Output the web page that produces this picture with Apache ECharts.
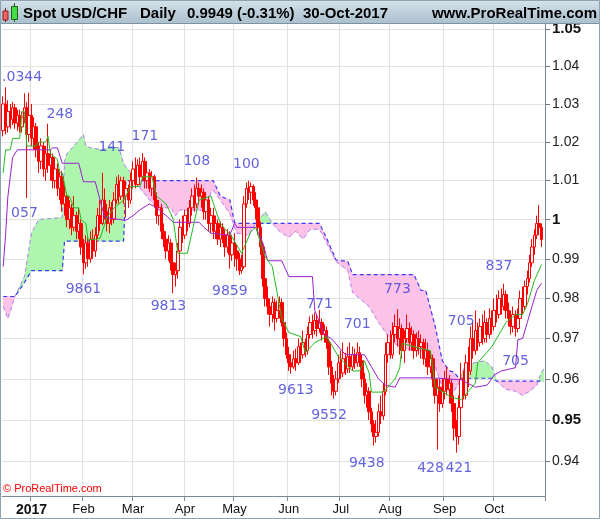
<!DOCTYPE html>
<html><head><meta charset="utf-8">
<script src="https://cdn.jsdelivr.net/npm/echarts@6/dist/echarts.min.js"></script>
<style>html,body{margin:0;padding:0;background:#fff}#c{width:600px;height:519px}</style>
</head><body><div id="c"></div>
<script>
// ---- data (prices x 1e-4) ----
const open = [10230,10300,10240,10280,10260,10290,10250,10270,10240,10265,
10290,10220,10270,10210,10240,10180,10150,10190,10130,10170,
10140,10160,10100,10130,10080,10110,10040,10060,10000,10030,
9980,10010,9970,9990,9930,9890,9940,9900,9950,9920,
9960,10010,9990,10050,10020,9990,10030,10000,10050,10090,
10060,10100,10060,10080,10050,10100,10130,10090,10140,10110,
10150,10100,10120,10080,10110,10050,10010,10030,9970,9950,
9920,9940,9890,9860,9870,9920,9980,9960,10010,9990,
10030,10060,10040,10080,10060,10070,10020,10050,9990,10010,
9970,9990,9950,9980,9960,9930,9960,9910,9940,9920,
9900,9870,9880,10040,10080,10070,10085,10050,10030,9980,
9930,9850,9800,9780,9760,9790,9750,9770,9790,9740,
9700,9660,9640,9630,9650,9640,9680,9660,9690,9670,
9710,9740,9720,9745,9725,9740,9710,9720,9690,9630,
9590,9570,9600,9640,9615,9650,9625,9655,9630,9660,
9640,9665,9645,9600,9560,9570,9520,9490,9460,9470,
9520,9510,9570,9660,9690,9660,9710,9730,9700,9725,
9670,9700,9725,9690,9710,9670,9700,9680,9690,9650,
9670,9630,9650,9600,9560,9580,9540,9570,9600,9575,
9590,9540,9480,9460,9530,9600,9560,9640,9620,9700,
9670,9720,9690,9730,9700,9740,9710,9750,9730,9770,
9760,9800,9780,9810,9770,9750,9730,9760,9725,9750,
9800,9780,9830,9850,9890,9930,9960,9990,9980];
const close = [10300,10240,10280,10260,10290,10250,10270,10240,10265,10290,
10220,10270,10210,10240,10180,10150,10190,10130,10170,10140,
10160,10100,10130,10080,10110,10040,10060,10000,10030,9980,
10010,9970,9990,9930,9890,9940,9900,9950,9920,9960,
10010,9990,10050,10020,9990,10030,10000,10050,10090,10060,
10100,10060,10080,10050,10100,10130,10090,10140,10110,10150,
10100,10120,10080,10110,10050,10010,10030,9970,9950,9920,
9940,9890,9860,9870,9920,9980,9960,10010,9990,10030,
10060,10040,10080,10060,10070,10020,10050,9990,10010,9970,
9990,9950,9980,9960,9930,9960,9910,9940,9920,9900,
9870,9880,10040,10080,10070,10085,10050,10030,9980,9930,
9850,9800,9780,9760,9790,9750,9770,9790,9740,9700,
9660,9640,9630,9650,9640,9680,9660,9690,9670,9710,
9740,9720,9745,9725,9740,9710,9720,9690,9630,9590,
9570,9600,9640,9615,9650,9625,9655,9630,9660,9640,
9665,9645,9600,9560,9570,9520,9490,9460,9470,9520,
9510,9570,9660,9690,9660,9710,9730,9700,9725,9670,
9700,9725,9690,9710,9670,9700,9680,9690,9650,9670,
9630,9650,9600,9560,9580,9540,9570,9600,9575,9590,
9540,9480,9460,9530,9600,9560,9640,9620,9700,9670,
9720,9690,9730,9700,9740,9710,9750,9730,9770,9760,
9800,9780,9810,9770,9750,9730,9760,9725,9750,9800,
9780,9830,9850,9890,9930,9960,9990,9980,9949];
const high = [10320,10344,10310,10300,10305,10300,10285,10285,10280,10328,
10305,10330,10300,10265,10250,10200,10210,10200,10190,10248,
10180,10170,10150,10145,10130,10125,10090,10070,10050,10040,
10060,10020,10030,10000,9950,9960,9955,9970,9975,9980,
10030,10050,10120,10080,10040,10050,10045,10070,10110,10115,
10110,10110,10100,10090,10120,10150,10160,10155,10160,10171,
10160,10140,10130,10125,10115,10070,10050,10040,9990,9970,
9960,9950,9900,9890,9940,10000,10010,10025,10030,10050,
10080,10090,10108,10095,10090,10080,10070,10060,10030,10030,
10010,10000,9995,9990,9975,9975,9970,9960,9965,9935,
9915,9910,10060,10095,10100,10095,10090,10070,10045,9995,
9940,9870,9830,9800,9805,9800,9795,9805,9800,9750,
9715,9680,9660,9670,9675,9700,9690,9720,9700,9730,
9755,9760,9765,9760,9771,9750,9735,9730,9700,9645,
9610,9620,9660,9670,9690,9665,9680,9690,9680,9675,
9690,9680,9660,9615,9590,9580,9530,9500,9500,9540,
9560,9590,9690,9710,9720,9740,9760,9773,9750,9735,
9720,9760,9740,9730,9720,9715,9720,9710,9700,9700,
9690,9670,9660,9620,9600,9600,9600,9620,9630,9610,
9600,9560,9500,9560,9640,9620,9660,9680,9730,9740,
9770,9740,9750,9760,9770,9750,9775,9770,9800,9810,
9820,9825,9837,9820,9790,9770,9780,9770,9775,9820,
9830,9845,9870,9910,9950,9975,10010,10037,9990];
const low = [10215,10220,10225,10235,10245,10235,10230,10225,10225,10250,
10055,10200,10190,10180,10160,10120,10130,10110,10100,10120,
10100,10080,10080,10060,10050,10020,10010,9980,9975,9960,
9970,9950,9950,9910,9861,9875,9880,9890,9900,9905,
9950,9970,9985,10000,9970,9965,9985,9990,10040,10040,
10050,10040,10005,10030,10040,10080,10080,10085,10090,10100,
10080,10080,10070,10060,10030,9990,9985,9950,9930,9900,
9895,9870,9813,9830,9850,9900,9940,9950,9970,9980,
10010,10020,10030,10040,10030,10000,10000,9970,9965,9950,
9950,9935,9930,9940,9905,9915,9875,9895,9880,9870,
9859,9862,9875,10030,10050,10040,10035,10000,9960,9910,
9830,9780,9760,9730,9740,9720,9740,9750,9730,9680,
9650,9620,9613,9625,9620,9635,9640,9650,9655,9660,
9700,9700,9710,9705,9715,9695,9690,9675,9610,9560,
9552,9560,9590,9600,9605,9610,9615,9615,9620,9625,
9630,9630,9580,9540,9530,9500,9470,9438,9445,9460,
9490,9500,9560,9640,9650,9650,9690,9680,9660,9650,
9640,9690,9670,9670,9650,9655,9660,9650,9635,9630,
9610,9615,9580,9540,9428,9520,9530,9550,9560,9540,
9520,9450,9421,9440,9520,9550,9550,9580,9610,9650,
9660,9670,9680,9685,9690,9690,9700,9710,9720,9740,
9750,9760,9770,9750,9730,9710,9715,9705,9715,9740,
9760,9770,9810,9840,9880,9910,9950,9960,9930];

// Tenkan-sen (green) vertices
const tenkanIdx = [0,1,3,4,7,8,9,10,14,15,18,19,20,23,24,25,27,28,30,32,33,35,36,41,44,47,51,54,58,59,63,65,69,71,72,74,78,83,88,90,92,97,101,105,107,109,111,114,118,121,126,128,132,137,142,148,151,153,155,156,161,166,168,169,177,181,183,190,194,200,201,207,210,213,217,220,222,225,228];
const tenkanVal = [1.012,1.018,1.018,1.021,1.021,1.028,1.028,1.019,1.019,1.020,1.020,1.0215,1.017,1.0155,1.012,1.012,1.006,1.006,1.003,1.003,1.0,0.999,0.9947,0.9952,1.0006,1.003,1.005,1.0085,1.0085,1.011,1.011,1.006,1.004,1.0015,1.0,0.9914,0.9914,1.005,1.006,1.0024,0.999,0.9955,0.9914,0.997,0.998,0.994,0.9905,0.988,0.975,0.9715,0.9705,0.9665,0.969,0.9705,0.9655,0.962,0.962,0.9645,0.9615,0.9568,0.9568,0.960,0.9628,0.9688,0.9675,0.967,0.958,0.9555,0.955,0.959,0.964,0.968,0.971,0.974,0.976,0.976,0.9785,0.9845,0.9885];
// Kijun-sen (purple) vertices
const kijunIdx = [0,1,2,4,6,20,21,23,25,32,34,39,41,43,52,55,58,62,65,69,72,83,85,88,96,98,99,107,110,112,118,121,131,132,134,136,139,145,153,156,159,162,166,168,182,189,194,200,205,208,211,217,218,220,222,224,226,228];
const kijunVal = [0.988,0.996,1.006,1.016,1.018,1.018,1.0185,1.0185,1.0145,1.0145,1.0097,1.0097,1.005,1.0005,0.9998,1.001,1.0025,1.004,1.003,1.001,0.9993,0.9993,0.998,0.9965,0.996,0.999,0.998,0.998,0.994,0.9895,0.9895,0.9855,0.9855,0.977,0.974,0.971,0.970,0.966,0.966,0.963,0.960,0.9585,0.958,0.9603,0.9603,0.960,0.9598,0.958,0.9585,0.961,0.962,0.9628,0.9697,0.970,0.974,0.978,0.982,0.9838];
// Cloud: Senkou span A (purple dashed) and span B (blue dashed)
const cloudIdx = [0,2,5,9,12,15,25,26,27,30,34,35,37,42,46,49,51,52,57,58,62,65,71,73,75,78,86,88,89,92,96,98,99,104,107,111,114,117,121,124,127,130,134,137,141,146,148,155,159,165,170,174,177,179,183,186,189,191,193,195,198,204,207,209,213,217,220,223,226,228,229];
const cloudA = [0.978,0.975,0.9805,0.9855,0.9965,1.0,1.0005,1.015,1.017,1.019,
1.022,1.019,1.0185,1.018,1.0188,1.0185,1.0145,1.0135,1.010,1.008,
1.005,1.003,1.003,1.001,1.0025,1.0024,1.0024,1.007,1.0075,1.005,
1.0015,0.998,0.9965,0.996,0.999,1.002,0.999,0.997,0.9955,0.997,
0.995,0.9975,0.9975,0.994,0.9893,0.987,0.9815,0.978,0.974,0.969,
0.9675,0.967,0.967,0.966,0.963,0.958,0.957,0.957,0.959,0.9625,
0.9638,0.9645,0.963,0.9595,0.9575,0.957,0.956,0.957,0.9585,0.9617,
0.9625];
const cloudB = [0.9805,0.9805,0.9805,0.984,0.987,0.987,0.987,
0.9945,0.9945,0.9945,0.9945,0.9945,0.9945,0.9945,0.9945,0.9945,0.9945,
1.010,1.010,1.010,1.010,1.010,1.010,1.010,1.010,1.010,1.010,1.010,1.010,
1.006,1.005,0.9993,
0.999,0.999,0.999,0.999,0.999,0.999,0.999,0.999,0.999,0.999,0.999,
0.9952,0.9897,0.9893,0.986,
0.986,0.986,0.986,0.986,0.986,
0.982,0.982,0.973,0.9645,0.962,0.9617,0.9602,
0.9602,0.9602,0.9602,0.9602,
0.9595,0.9595,0.9595,0.9595,0.9595,0.9595,0.9595,0.9595];
// Swing labels
const annoText = ['.0344','248','057','9861','141','171','9813','108','9859','100','9613','771','9552','701','9438','773','428','421','705','837','705'];
const annoIdx = [8,24,9,34,46,60,70,82,96,103,124,134,138,150,154,167,181,193,194,210,217];
const annoPrice = [1.0371,1.0274,1.0016,0.9822,1.0186,1.0216,0.9781,1.0151,0.9819,1.0143,0.9573,0.9784,0.9512,0.9736,0.9394,0.9824,0.9384,0.9382,0.9742,0.988,0.9644];
// Axes
const N_CAT = 230;
const categories = Array.from({length: N_CAT}, (_, i) => String(i));
const monthNames = ['2017','Feb','Mar','Apr','May','Jun','Jul','Aug','Sep','Oct'];
const monthIdx = [12,34,55,77,98,121,143,164,187,208];
const yTicks = [1.05,1.04,1.03,1.02,1.01,1,0.99,0.98,0.97,0.96,0.95,0.94];
const boldTicks = [1.05,1,0.95];

const GREEN = '#aef5ae', PINK = '#fcc2e8';
const candleData = open.map((o, i) => [o / 1e4, close[i] / 1e4, low[i] / 1e4, high[i] / 1e4]);
const pairs = (xs, ys) => xs.map((x, k) => [x, ys[k]]);

function cloudRender(params, api) {
  const k = params.dataIndex;
  if (k >= cloudIdx.length - 1) return null;
  const a0 = api.coord([cloudIdx[k], cloudA[k]]), b0 = api.coord([cloudIdx[k], cloudB[k]]);
  const a1 = api.coord([cloudIdx[k + 1], cloudA[k + 1]]), b1 = api.coord([cloudIdx[k + 1], cloudB[k + 1]]);
  const d0 = b0[1] - a0[1], d1 = b1[1] - a1[1];
  const col = d => d > 0 ? GREEN : PINK;
  const mk = (pts, d) => ({type: 'polygon', shape: {points: pts}, style: {fill: col(d), stroke: col(d), lineWidth: 0.6}});
  const ch = [];
  if (d0 * d1 >= 0) {
    const d = Math.abs(d0) > Math.abs(d1) ? d0 : d1;
    if (d !== 0) ch.push(mk([a0, a1, b1, b0], d));
  } else {
    const t = d0 / (d0 - d1);
    const x = [a0[0] + t * (a1[0] - a0[0]), a0[1] + t * (a1[1] - a0[1])];
    ch.push(mk([a0, x, b0], d0));
    ch.push(mk([x, a1, b1], d1));
  }
  return {type: 'group', children: ch};
}

const isMonth = i => monthIdx.indexOf(i) >= 0;
const FONT = 'Liberation Sans, Arial, sans-serif';

const chart = echarts.init(document.getElementById('c'), null, {renderer: 'canvas'});
chart.setOption({
  animation: false,
  backgroundColor: '#ffffff',
  grid: {left: 2, right: 55, top: 24, bottom: 23, outerBoundsMode: 'none'},
  xAxis: {
    type: 'category', data: categories, boundaryGap: true,
    axisLine: {show: true, lineStyle: {color: '#7b8a96', width: 1}},
    axisTick: {show: true, interval: isMonth, length: 5, lineStyle: {color: '#7b8a96'}},
    axisLabel: {
      interval: isMonth, margin: 7, color: '#111', fontSize: 13, fontFamily: FONT,
      formatter: v => { const k = monthIdx.indexOf(+v); return k === 0 ? '{b|' + monthNames[0] + '}' : monthNames[k]; },
      rich: {b: {fontWeight: 'bold', fontSize: 14, color: '#111', fontFamily: FONT}}
    },
    splitLine: {show: true, interval: isMonth, lineStyle: {color: '#e2e2e2', width: 1}}
  },
  yAxis: {
    type: 'log', logBase: 10, position: 'right', min: 0.9317, max: 1.0513,
    axisLine: {show: true, lineStyle: {color: '#7b8a96', width: 1}},
    axisTick: {show: true, customValues: yTicks, length: 5, lineStyle: {color: '#777'}},
    axisLabel: {
      customValues: yTicks, margin: 7, color: '#222', fontSize: 14, fontFamily: FONT,
      formatter: v => { const r = +(+v).toFixed(2); const s = String(r); return boldTicks.some(b => Math.abs(b - r) < 1e-6) ? '{b|' + s + '}' : s; },
      rich: {b: {fontWeight: 'bold', fontSize: 15, color: '#111', fontFamily: FONT}}
    },
    splitLine: {show: true, lineStyle: {color: '#e2e2e2', width: 1}}
  },
  series: [
    {type: 'custom', renderItem: cloudRender, data: cloudIdx.map((x, k) => [x, cloudA[k], cloudB[k]]), encode: {x: 0, y: [1, 2]}, silent: true, z: 1},
    {type: 'line', data: pairs(cloudIdx, cloudA), symbol: 'none', silent: true, z: 2, lineStyle: {color: '#b27ff0', width: 1, type: [4, 3]}},
    {type: 'line', data: pairs(cloudIdx, cloudB), symbol: 'none', silent: true, z: 2, lineStyle: {color: '#3a3af5', width: 1.2, type: [4, 3]}},
    {type: 'candlestick', data: candleData, barWidth: 3, silent: true, z: 3,
      itemStyle: {color: '#ffffff', color0: '#ff0000', borderColor: '#ff0000', borderColor0: '#ff0000', borderWidth: 1}},
    {type: 'line', data: pairs(kijunIdx, kijunVal), symbol: 'none', silent: true, z: 4, lineStyle: {color: '#9a22cc', width: 1}},
    {type: 'line', data: pairs(tenkanIdx, tenkanVal), symbol: 'none', silent: true, z: 4, lineStyle: {color: '#22bb22', width: 1}},
    {type: 'scatter', data: annoIdx.map((x, k) => [x, annoPrice[k], annoText[k]]), symbolSize: 1, silent: true, z: 5,
      itemStyle: {color: 'rgba(0,0,0,0)'},
      label: {show: true, position: 'inside', formatter: p => p.data[2], color: '#3b3bd6', fontSize: 14, fontFamily: 'DejaVu Sans, sans-serif'}}
  ],
  graphic: [
    {type: 'rect', shape: {x: 0, y: 0, width: 600, height: 24}, z: 100,
      style: {fill: new echarts.graphic.LinearGradient(0, 0, 0, 1, [{offset: 0, color: '#d5e2ea'}, {offset: 1, color: '#a9bfcc'}])}},
    {type: 'line', shape: {x1: 0, y1: 23.5, x2: 600, y2: 23.5}, z: 101, style: {stroke: '#7d93a2', lineWidth: 1}},
    {type: 'line', shape: {x1: 5.5, y1: 8, x2: 5.5, y2: 22}, z: 101, style: {stroke: '#7a2020', lineWidth: 1}},
    {type: 'rect', shape: {x: 3, y: 11, width: 5, height: 9}, z: 102, style: {fill: '#f06565', stroke: '#8a2020', lineWidth: 1}},
    {type: 'line', shape: {x1: 14.5, y1: 3, x2: 14.5, y2: 22}, z: 101, style: {stroke: '#206020', lineWidth: 1}},
    {type: 'rect', shape: {x: 11.5, y: 6.5, width: 6, height: 13}, z: 102, style: {fill: '#44dd44', stroke: '#206020', lineWidth: 1}},
    {type: 'text', x: 23, y: 14, z: 103, style: {text: 'Spot USD/CHF', font: 'bold 15px ' + FONT, fill: '#000', verticalAlign: 'middle', textVerticalAlign: 'middle'}},
    {type: 'text', x: 140, y: 14, z: 103, style: {text: 'Daily', font: 'bold 15px ' + FONT, fill: '#000', verticalAlign: 'middle', textVerticalAlign: 'middle'}},
    {type: 'text', x: 187, y: 14, z: 103, style: {text: '0.9949 (-0.31%)', font: 'bold 15px ' + FONT, fill: '#000', verticalAlign: 'middle', textVerticalAlign: 'middle'}},
    {type: 'text', x: 303, y: 14, z: 103, style: {text: '30-Oct-2017', font: 'bold 15px ' + FONT, fill: '#000', verticalAlign: 'middle', textVerticalAlign: 'middle'}},
    {type: 'text', x: 597, y: 14, z: 103, style: {text: 'www.ProRealTime.com', font: 'bold 15px ' + FONT, fill: '#000', align: 'right', textAlign: 'right', verticalAlign: 'middle', textVerticalAlign: 'middle'}},
    {type: 'text', x: 3, y: 489, z: 103, style: {text: '\u00a9 ProRealTime.com', font: '11px ' + FONT, fill: '#ff0000', verticalAlign: 'middle', textVerticalAlign: 'middle'}},
    {type: 'rect', shape: {x: 0.5, y: 0.5, width: 599, height: 518}, z: 104, style: {fill: 'none', stroke: '#8da3b3', lineWidth: 1}}
  ]
});
</script></body></html>
